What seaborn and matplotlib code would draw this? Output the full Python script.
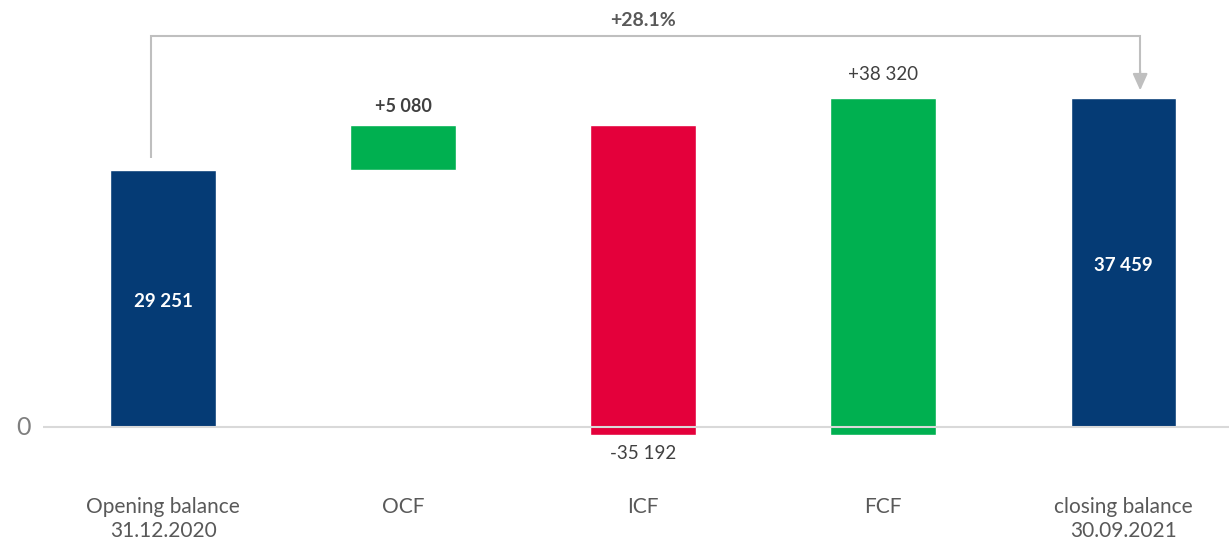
import numpy as np
import seaborn as sns
import matplotlib.pyplot as plt

# waterfall data
categories = ["Opening balance\n31.12.2020", "OCF", "ICF", "FCF", "closing balance\n30.09.2021"]
steps = [29251, 5080, -35192, 38320, 37459]
kinds = ["total", "delta", "delta", "delta", "total"]
value_labels = ["29 251", "+5 080", "-35 192", "+38 320", "37 459"]
change_label = "+28.1%"

navy = "#053b75"
green = "#00b050"
red = "#e4003b"
grey_text = "#595959"

sns.set_style("white")
plt.rcParams["font.family"] = ["Lato", "DejaVu Sans"]

# bottoms of the floating bars
bottoms = []
running = 0
for s, k in zip(steps, kinds):
    if k == "total":
        bottoms.append(0)
        running = s
    else:
        bottoms.append(running)
        running += s
colors = [navy if k == "total" else (green if s > 0 else red) for s, k in zip(steps, kinds)]

fig = plt.figure(figsize=(12.29, 5.42), dpi=100)
ax = fig.add_axes([43 / 1229, 0, 1 - 43 / 1229, 1])

sns.barplot(x=categories, y=steps, hue=categories, palette=colors,
            width=0.44, legend=False, ax=ax, saturation=1)

# move the bars up to their floating position
for cont, b in zip(ax.containers, bottoms):
    for p in cont:
        p.set_y(b)

ax.set_xlim(-0.5, 4.44)
ax.set_ylim(-13080, 48580)
sns.despine(ax=ax, left=True, bottom=True)
ax.set_xticks([])
ax.set_yticks([])
ax.axhline(0, color="#d9d9d9", lw=1.5, zorder=3)
ax.text(-0.55, 0, "0", ha="right", va="center", fontsize=18, color="#7f7f7f", clip_on=False)

# category labels under the axis
for i, c in enumerate(categories):
    ax.text(i, -8000, c, ha="center", va="top", fontsize=15, color=grey_text,
            linespacing=1.25)

# value labels
for i, (s, b, k, lab) in enumerate(zip(steps, bottoms, kinds, value_labels)):
    top = max(b, b + s)
    low = min(b, b + s)
    if k == "total":
        ax.text(i, b + s * 0.49, lab, ha="center", va="center",
                color="white", fontsize=13.5, fontweight="bold")
    elif s < 0:
        ax.text(i, low - 2200, lab, ha="center", va="center", color="#404040", fontsize=13.5)
    elif i == 1:
        ax.text(i, top + 2100, lab, ha="center", va="center", color="#404040",
                fontsize=13, fontweight="bold")
    else:
        ax.text(i, top + 2700, lab, ha="center", va="center", color="#404040", fontsize=13.5)

# connector with arrow
xs, xe = -0.05, 4.07
y_top = 44480
ax.plot([xs, xs, xe, xe], [30600, y_top, y_top, 40300], color="#bfbfbf", lw=1.5,
        solid_capstyle="butt", solid_joinstyle="miter")
ax.annotate("", xy=(xe, 38300), xytext=(xe, 40500),
            arrowprops=dict(arrowstyle="-|>,head_length=1.0,head_width=0.45",
                            color="#bfbfbf", lw=1.5, shrinkA=0, shrinkB=0))
ax.text(2, 46300, change_label, ha="center", va="center", color=grey_text,
        fontsize=14, fontweight="bold")

fig.savefig("out.png", dpi=100)
